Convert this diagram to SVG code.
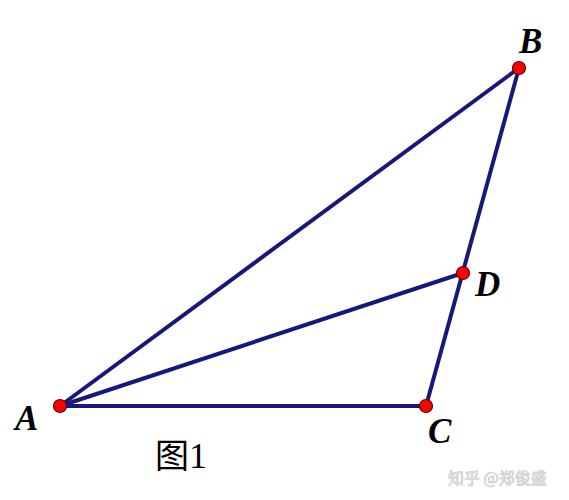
<svg xmlns="http://www.w3.org/2000/svg" width="569" height="500" viewBox="0 0 569 500">
<style>
.seg{stroke:#18187a;stroke-width:4;stroke-linecap:round;fill:none}
.pt{fill:#f00;stroke:#600;stroke-width:1.2}
.lbl{font-family:"Liberation Serif",serif;font-style:italic;font-weight:bold;font-size:35px;fill:#000}
.cap{font-family:"Noto Sans CJK SC",serif;font-size:34px;fill:#000}
.num{font-family:"Liberation Serif",serif;font-size:36px}
.wm{font-family:"Noto Sans CJK SC",sans-serif;font-size:16px;fill:#f2f2f2;stroke:#c4c4c4;stroke-width:0.6}
</style>
<rect width="569" height="500" fill="#fff"/>
<g id="connectors">
<line class="seg" x1="60" y1="406" x2="519" y2="68"/>
<line class="seg" x1="60" y1="406" x2="426" y2="406"/>
<line class="seg" x1="60" y1="406" x2="463" y2="273"/>
<line class="seg" x1="519" y1="68" x2="426" y2="406"/>
</g>
<g id="A"><circle class="pt" cx="60" cy="406" r="6.5"/><text class="lbl" x="15" y="430">A</text></g>
<g id="B"><circle class="pt" cx="519" cy="68" r="6.5"/><text class="lbl" x="519" y="53">B</text></g>
<g id="C"><circle class="pt" cx="426" cy="406" r="6.5"/><text class="lbl" x="428" y="443">C</text></g>
<g id="D"><circle class="pt" cx="463" cy="273" r="6.5"/><text class="lbl" x="475" y="296">D</text></g>
<text class="cap" x="155" y="468">图<tspan class="num">1</tspan></text>
<text class="wm" x="448" y="484">知乎 @郑俊盛</text>
</svg>
